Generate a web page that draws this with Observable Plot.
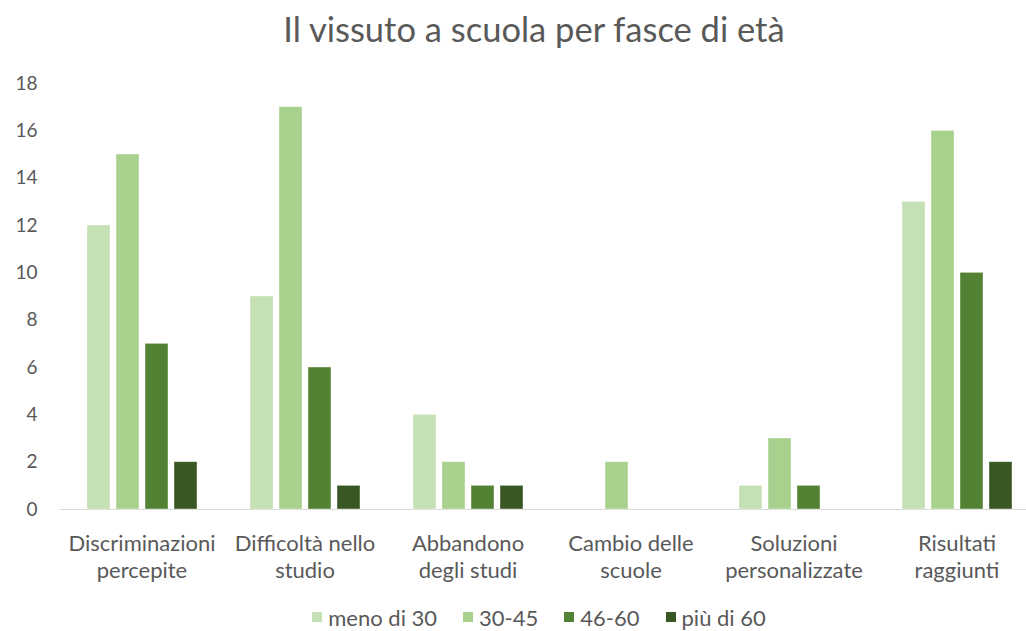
<!DOCTYPE html>
<html>
<head>
<meta charset="utf-8">
<script src="https://cdn.jsdelivr.net/npm/d3@7"></script>
<script src="https://cdn.jsdelivr.net/npm/@observablehq/plot@0.6"></script>
<style>
  html, body { margin: 0; padding: 0; background: #ffffff; }
  body { width: 1026px; height: 631px; overflow: hidden; font-family: Lato, sans-serif; color: #595959; }
  #title { height: 58px; line-height: 58px; font-size: 34.5px; text-align: center; padding-left: 42px; box-sizing: border-box; width: 1026px; }
  #chart { height: 540px; margin-top: 2px; }
  #legend { display: flex; justify-content: center; align-items: center; gap: 26px; font-size: 22px; padding-left: 52px; width: 1026px; box-sizing: border-box; height: 34px; }
  .item { display: flex; align-items: center; gap: 6px; }
  .sw { width: 10px; height: 10px; display: inline-block; }
</style>
</head>
<body>
<div id="title">Il vissuto a scuola per fasce di età</div>
<div id="chart"></div>
<div id="legend"></div>
<script>
const categories = ["Discriminazioni percepite", "Difficoltà nello studio", "Abbandono degli studi", "Cambio delle scuole", "Soluzioni personalizzate", "Risultati raggiunti"];
const categoryLabels = ["Discriminazioni\npercepite", "Difficoltà nello\nstudio", "Abbandono\ndegli studi", "Cambio delle\nscuole", "Soluzioni\npersonalizzate", "Risultati\nraggiunti"];
const series = ["meno di 30", "30-45", "46-60", "più di 60"];
const menoDi30 = [12, 9, 4, 0, 1, 13];
const da30a45 = [15, 17, 2, 2, 3, 16];
const da46a60 = [7, 6, 1, 0, 1, 10];
const piuDi60 = [2, 1, 1, 0, 0, 2];
const yTicks = [0, 2, 4, 6, 8, 10, 12, 14, 16, 18];
const colors = ["#C5E0B4", "#A9D18E", "#548235", "#385723"];

const seriesValues = [menoDi30, da30a45, da46a60, piuDi60];
const data = [];
categories.forEach((c, i) => {
  series.forEach((s, j) => {
    data.push({category: c, series: s, value: seriesValues[j][i]});
  });
});
const labelOf = new Map(categories.map((c, i) => [c, categoryLabels[i]]));

const chart = Plot.plot({
  width: 1026,
  height: 540,
  marginLeft: 57,
  marginRight: -14,
  marginTop: 23,
  marginBottom: 91,
  style: {fontFamily: "Lato, sans-serif", fontSize: "19px", color: "#595959", background: "transparent"},
  fx: {domain: categories, paddingInner: 0, paddingOuter: 0, label: null, axis: null},
  x: {domain: series, paddingInner: 0.211, paddingOuter: 0.854, axis: null},
  y: {domain: [0, 18], label: null, axis: null},
  color: {domain: series, range: colors},
  marks: [
    Plot.axisY({ticks: yTicks, tickSize: 0, tickPadding: 23, fontSize: 19, label: null, fill: "#595959"}),
    Plot.axisFx({anchor: "bottom", tickSize: 0, tickPadding: 23, fontSize: 22, lineHeight: 1.21, label: null, tickFormat: d => labelOf.get(d), fill: "#595959"}),
    Plot.ruleY([0], {stroke: "#d9d9d9", strokeWidth: 1}),
    Plot.barY(data.filter(d => d.value > 0), {fx: "category", x: "series", y: "value", fill: "series", stroke: "#ffffff", strokeOpacity: 0.5, strokeWidth: 0.8})
  ]
});
document.getElementById("chart").appendChild(chart);

const legend = document.getElementById("legend");
series.forEach((s, i) => {
  const item = document.createElement("div");
  item.className = "item";
  const sw = document.createElement("span");
  sw.className = "sw";
  sw.style.background = colors[i];
  const t = document.createElement("span");
  t.textContent = s;
  item.appendChild(sw);
  item.appendChild(t);
  legend.appendChild(item);
});
</script>
</body>
</html>
